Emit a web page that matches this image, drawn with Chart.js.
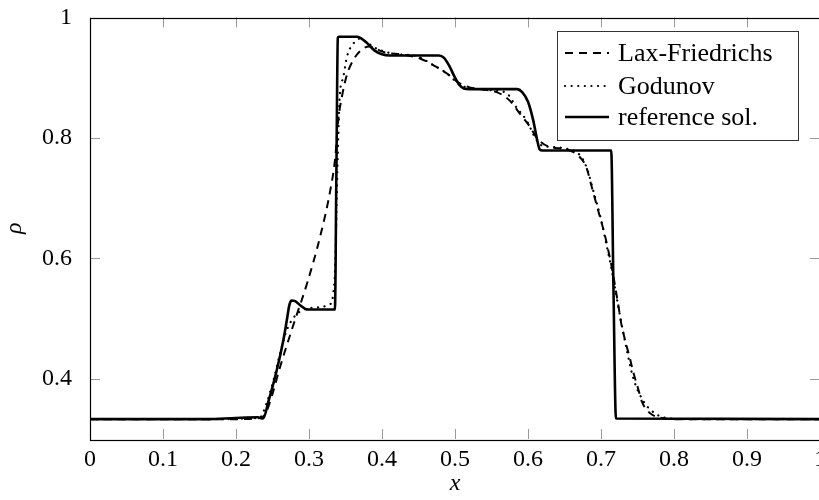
<!DOCTYPE html>
<html>
<head>
<meta charset="utf-8">
<script src="https://cdn.jsdelivr.net/npm/chart.js@4"></script>
<style>
  html, body { margin: 0; padding: 0; background: #fff; overflow: hidden; }
  #wrap { width: 819px; height: 500px; overflow: hidden; }
</style>
</head>
<body>
<div id="wrap"><canvas id="myChart" width="830" height="500"></canvas></div>
<script>
// tick positions
const xTicks = [0, 0.1, 0.2, 0.3, 0.4, 0.5, 0.6, 0.7, 0.8, 0.9, 1];
const yTicks = [0.4, 0.6, 0.8, 1];

const seriesNames = ['Lax-Friedrichs', 'Godunov', 'reference sol.'];

// Lax-Friedrichs (dashed)
const lfX = [0, 0.2, 0.225, 0.235, 0.24, 0.25, 0.26, 0.279, 0.297, 0.315, 0.329, 0.336, 0.34, 0.345,
    0.352, 0.361, 0.37, 0.382, 0.39, 0.397, 0.408, 0.425, 0.452, 0.47, 0.489, 0.507, 0.52, 0.534,
    0.557, 0.575, 0.589, 0.603, 0.612, 0.63, 0.653, 0.671, 0.68, 0.687, 0.696, 0.705, 0.71, 0.714,
    0.724, 0.728, 0.735, 0.74, 0.744, 0.751, 0.756, 0.767, 0.779, 0.8, 1];
const lfRho = [0.333, 0.333, 0.334, 0.336, 0.341, 0.375, 0.418, 0.491, 0.557, 0.635, 0.712, 0.768, 0.829, 0.868,
    0.905, 0.93, 0.944, 0.952, 0.95, 0.945, 0.941, 0.939, 0.932, 0.921, 0.907, 0.89, 0.884, 0.881,
    0.876, 0.862, 0.84, 0.818, 0.8, 0.785, 0.781, 0.768, 0.751, 0.72, 0.68, 0.64, 0.613, 0.59,
    0.52, 0.49, 0.455, 0.432, 0.412, 0.383, 0.362, 0.343, 0.336, 0.333, 0.333];

// Godunov (dotted)
const godX = [0, 0.18, 0.215, 0.233, 0.242, 0.251, 0.26, 0.269, 0.278, 0.288, 0.304, 0.329, 0.333, 0.336,
    0.338, 0.34, 0.342, 0.347, 0.352, 0.361, 0.37, 0.378, 0.39, 0.402, 0.42, 0.443, 0.455, 0.466,
    0.489, 0.507, 0.524, 0.552, 0.571, 0.584, 0.598, 0.61, 0.618, 0.634, 0.653, 0.667, 0.675, 0.682,
    0.69, 0.699, 0.708, 0.714, 0.72, 0.726, 0.735, 0.744, 0.758, 0.776, 0.795, 0.82, 1];
const godRho = [0.333, 0.333, 0.334, 0.336, 0.36, 0.396, 0.44, 0.479, 0.5, 0.512, 0.518, 0.524, 0.54, 0.591,
    0.7, 0.796, 0.868, 0.901, 0.935, 0.957, 0.965, 0.96, 0.95, 0.944, 0.939, 0.937, 0.932, 0.924,
    0.907, 0.888, 0.882, 0.879, 0.874, 0.851, 0.829, 0.8, 0.788, 0.785, 0.782, 0.776, 0.765, 0.745,
    0.71, 0.67, 0.62, 0.585, 0.545, 0.505, 0.45, 0.402, 0.363, 0.341, 0.334, 0.333, 0.333];

// reference solution (solid)
const refX = [0, 0.16, 0.2, 0.23, 0.237, 0.245, 0.255, 0.265, 0.27, 0.273, 0.276, 0.281, 0.288, 0.295,
    0.3, 0.3355, 0.3375, 0.3395, 0.341, 0.366, 0.372, 0.38, 0.39, 0.4, 0.41, 0.478, 0.485, 0.492,
    0.5, 0.506, 0.512, 0.52, 0.585, 0.592, 0.6, 0.607, 0.612, 0.616, 0.62, 0.714, 0.717, 0.7205, 1];
const refRho = [0.333, 0.333, 0.335, 0.336, 0.334, 0.365, 0.41, 0.465, 0.5, 0.522, 0.53, 0.529, 0.522, 0.516,
    0.515, 0.515, 0.74, 0.966, 0.968, 0.968, 0.965, 0.957, 0.945, 0.939, 0.937, 0.937, 0.933, 0.92,
    0.9, 0.888, 0.882, 0.881, 0.881, 0.876, 0.86, 0.83, 0.8, 0.781, 0.779, 0.779, 0.556, 0.334, 0.333];

const toPoints = (xs, ys) => xs.map((x, i) => ({ x: x, y: ys[i] }));

const serif = '"Liberation Serif", "DejaVu Serif", serif';
const fmt = v => String(Math.round(v * 10) / 10);

// inward ticks, frame and legend box
const framePlugin = {
    id: 'frame',
    afterDraw(chart) {
        const ctx = chart.ctx;
        const a = chart.chartArea;
        const xs = chart.scales.x;
        const ys = chart.scales.y;
        const len = 10;
        ctx.save();
        ctx.strokeStyle = '#9a9a9a';
        ctx.lineWidth = 1;
        ctx.beginPath();
        xTicks.forEach(v => {
            const px = Math.round(xs.getPixelForValue(v)) + 0.5;
            ctx.moveTo(px, a.bottom); ctx.lineTo(px, a.bottom - len);
            ctx.moveTo(px, a.top); ctx.lineTo(px, a.top + len);
        });
        yTicks.forEach(v => {
            const py = Math.round(ys.getPixelForValue(v)) + 0.5;
            ctx.moveTo(a.left, py); ctx.lineTo(a.left + len, py);
            ctx.moveTo(a.right, py); ctx.lineTo(a.right - len, py);
        });
        ctx.stroke();

        ctx.strokeStyle = '#000';
        ctx.lineWidth = 1.2;
        ctx.strokeRect(Math.round(a.left) + 0.5, Math.round(a.top) + 0.5,
            Math.round(a.right - a.left), Math.round(a.bottom - a.top));

        // legend
        const bx = 557, by = 31, bw = 241, bh = 109;
        ctx.fillStyle = '#fff';
        ctx.fillRect(bx, by, bw, bh);
        ctx.lineWidth = 1;
        ctx.strokeStyle = '#333';
        ctx.strokeRect(bx + 0.5, by + 0.5, bw, bh);
        const rows = [53, 86, 117];
        chart.data.datasets.forEach((ds, i) => {
            const y = rows[i];
            ctx.save();
            ctx.strokeStyle = ds.borderColor;
            ctx.lineWidth = ds.borderWidth;
            ctx.lineCap = ds.borderCapStyle || 'butt';
            ctx.setLineDash(ds.borderDash || []);
            ctx.beginPath();
            ctx.moveTo(565, y);
            ctx.lineTo(609, y);
            ctx.stroke();
            ctx.restore();
            ctx.fillStyle = '#000';
            ctx.font = '26px ' + serif;
            ctx.textBaseline = 'middle';
            ctx.fillText(ds.label, 618, y + 1);
        });
        ctx.restore();
    }
};

const data = {
    datasets: [{
        label: seriesNames[0],
        data: toPoints(lfX, lfRho),
        borderColor: '#000',
        borderWidth: 2,
        borderDash: [8, 6],
        cubicInterpolationMode: 'monotone',
        pointRadius: 0,
        fill: false
    }, {
        label: seriesNames[1],
        data: toPoints(godX, godRho),
        borderColor: '#000',
        borderWidth: 2.2,
        borderDash: [0.1, 6.5],
        borderCapStyle: 'round',
        cubicInterpolationMode: 'monotone',
        pointRadius: 0,
        fill: false
    }, {
        label: seriesNames[2],
        data: toPoints(refX, refRho),
        borderColor: '#000',
        borderWidth: 2.6,
        cubicInterpolationMode: 'monotone',
        pointRadius: 0,
        fill: false
    }]
};

const config = {
    type: 'line',
    data: data,
    options: {
        responsive: false,
        animation: false,
        layout: { padding: { top: 17.5, right: 10, left: 0, bottom: 0 } },
        plugins: { legend: { display: false }, tooltip: { enabled: false } },
        scales: {
            x: {
                type: 'linear',
                min: 0,
                max: 1,
                afterBuildTicks: s => { s.ticks = xTicks.map(v => ({ value: v })); },
                afterFit: s => { s.height = 61; s.paddingLeft = 0; s.paddingRight = 0; },
                grid: { display: false },
                border: { display: false },
                ticks: {
                    color: '#000',
                    padding: -2,
                    maxRotation: 0,
                    autoSkip: false,
                    font: { family: serif, size: 24 },
                    callback: v => fmt(v)
                },
                title: {
                    display: true,
                    text: 'x',
                    color: '#000',
                    padding: { top: 0, bottom: 2 },
                    font: { family: serif, size: 24, style: 'italic' }
                }
            },
            y: {
                type: 'linear',
                min: 0.3,
                max: 1,
                afterBuildTicks: s => { s.ticks = yTicks.map(v => ({ value: v })); },
                afterFit: s => { s.width = 90; s.paddingTop = 0; s.paddingBottom = 0; },
                grid: { display: false },
                border: { display: false },
                ticks: {
                    color: '#000',
                    padding: 10,
                    font: { family: serif, size: 24 },
                    callback: v => fmt(v)
                },
                title: {
                    display: true,
                    text: 'ρ',
                    color: '#000',
                    padding: 0,
                    font: { family: serif, size: 24, style: 'italic' }
                }
            }
        }
    },
    plugins: [framePlugin]
};

let myChart = new Chart(
    document.getElementById('myChart'),
    config
);
</script>
</body>
</html>
